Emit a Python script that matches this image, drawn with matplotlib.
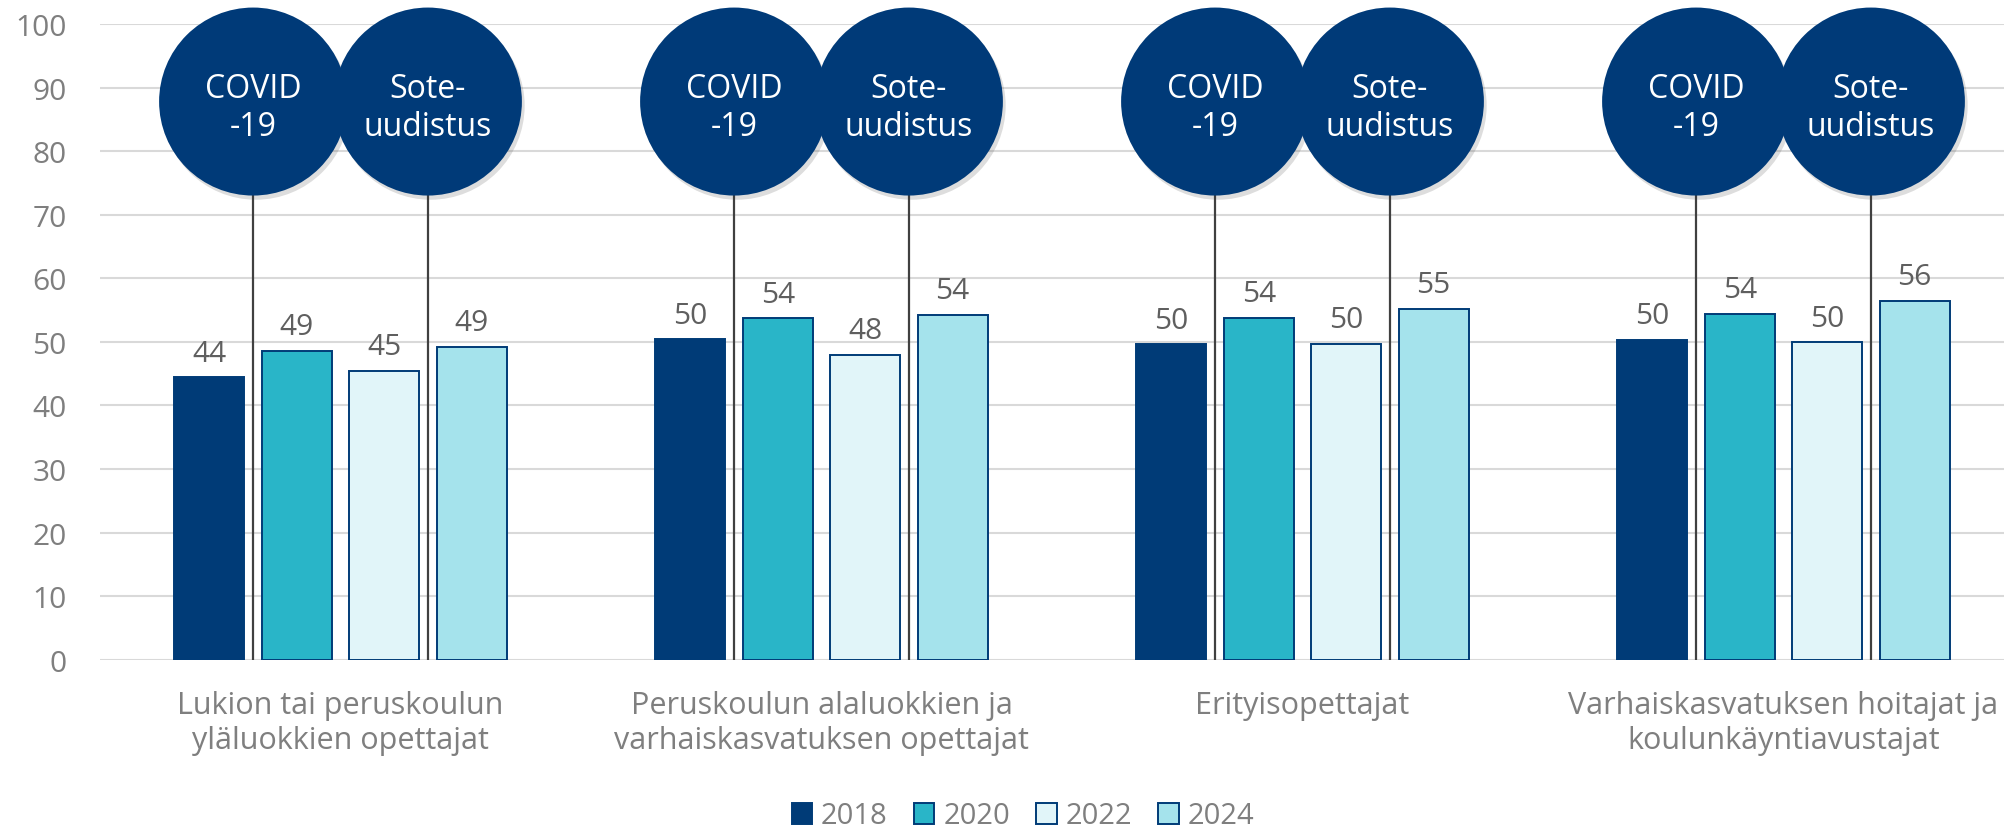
import matplotlib.pyplot as plt
import matplotlib.patheffects as pe
import numpy as np

plt.rcParams['font.family'] = ['Open Sans', 'DejaVu Sans']

# --- Data ---
categories = [
    "Lukion tai peruskoulun\nyläluokkien opettajat",
    "Peruskoulun alaluokkien ja\nvarhaiskasvatuksen opettajat",
    "Erityisopettajat",
    "Varhaiskasvatuksen hoitajat ja\nkoulunkäyntiavustajat",
]
years = ["2018", "2020", "2022", "2024"]
v2018 = [44.4, 50.4, 49.6, 50.3]
v2020 = [48.6, 53.7, 53.8, 54.4]
v2022 = [45.4, 48.0, 49.7, 49.9]
v2024 = [49.2, 54.2, 55.2, 56.4]
events = ["COVID\n-19", "Sote-\nuudistus"]

# --- Style ---
NAVY = "#003B77"
fills = [NAVY, "#29B5C8", "#E1F5F9", "#A5E3EC"]
TXT = "#7F7F7F"
LBL = "#5F5F5F"

W, H = 2004, 829
fig = plt.figure(figsize=(W / 100, H / 100), dpi=100)
ax = fig.add_axes([100 / W, (H - 660.7) / H, 1 - 100 / W, (660.7 - 25) / H])

x = np.arange(len(categories))
pitch = 0.1817
bw = 0.1455
series = [v2018, v2020, v2022, v2024]

for i, (vals, col) in enumerate(zip(series, fills)):
    xs = x + (i - 1.5) * pitch
    ec = col if i == 0 else NAVY
    bars = ax.bar(xs, vals, width=bw, color=col, edgecolor=ec, linewidth=1.4,
                  label=years[i], zorder=3)
    for b, v in zip(bars, vals):
        ax.annotate(f"{round(v)}", (b.get_x() + b.get_width() / 2, v),
                    xytext=(0, 7), textcoords="offset points",
                    ha="center", va="bottom", fontsize=21.5, color=LBL, zorder=4)

# event markers: vertical lines + circles
circ_y = 87.8
size = (2 * 94 * 0.72) ** 2
shadow = [pe.SimplePatchShadow(offset=(2, -3), alpha=0.18, shadow_rgbFace="#444444"), pe.Normal()]
for gx in x:
    for k, off in enumerate([-pitch, pitch]):
        ex = gx + off
        ax.vlines(ex, 0, circ_y, color="#404040", linewidth=1.6, zorder=5)
        ax.scatter([ex], [circ_y], s=size, color="#003A78", zorder=6 + k,
                   clip_on=False, path_effects=shadow, linewidths=0)
        ax.text(ex, circ_y - 0.9, events[k], ha="center", va="center", color="white",
                fontsize=23, linespacing=1.2, zorder=8 + k)

ax.set_ylim(0, 100)
ax.set_yticks(range(0, 101, 10))
ax.set_xlim(-0.5, -0.5 + 1904 / 481)
ax.set_xticks(x)
ax.set_xticklabels(categories)
for t in ax.get_xticklabels():
    t.set_linespacing(1.2)
ax.tick_params(axis="x", length=0, pad=22, labelsize=22, labelcolor=TXT)
ax.tick_params(axis="y", length=0, pad=24, labelsize=21.5, labelcolor=TXT)
ax.grid(axis="y", color="#D9D9D9", linewidth=1.5, zorder=0)
ax.set_axisbelow(True)
for s in ax.spines.values():
    s.set_visible(False)

fig.legend(loc="center", bbox_to_anchor=(1023 / W, 12 / H), ncol=4, frameon=False,
           fontsize=21, labelcolor=TXT, handlelength=0.7, handleheight=0.7,
           handletextpad=0.3, columnspacing=0.9)

fig.savefig("out.png", dpi=100)
